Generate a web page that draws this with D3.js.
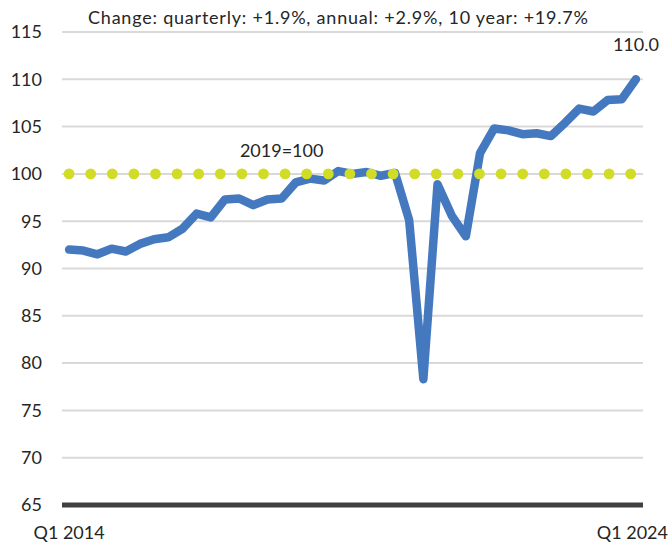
<!DOCTYPE html>
<html>
<head>
<meta charset="utf-8">
<script src="https://cdn.jsdelivr.net/npm/d3@7"></script>
<style>
  html, body { margin: 0; padding: 0; background: #fff; overflow: hidden; }
  text { font-family: Lato, "Noto Sans", sans-serif; fill: #262626; }
</style>
</head>
<body>
<div id="chart"></div>
<script>
// quarters Q1 2014 .. Q1 2024
const quarters = d3.range(2014, 2025).flatMap((y) => [1, 2, 3, 4].map((q) => `Q${q} ${y}`)).slice(0, 41);
const values = [
  92.0, 91.9, 91.5, 92.1, 91.8, 92.6, 93.1, 93.3, 94.2, 95.8,
  95.4, 97.3, 97.4, 96.7, 97.3, 97.4, 99.1, 99.5, 99.3, 100.3,
  100.0, 100.2, 99.8, 100.1, 95.1, 78.3, 98.9, 95.6, 93.4, 102.2,
  104.8, 104.6, 104.2, 104.3, 104.0, 105.4, 106.9, 106.6, 107.8, 107.9,
  110.0
];
const baseline = 100;
const yTicks = [65, 70, 75, 80, 85, 90, 95, 100, 105, 110, 115];
const xTickLabels = ['Q1 2014', 'Q1 2024'];
const title = 'Change: quarterly: +1.9%, annual: +2.9%, 10 year: +19.7%';
const baseLabel = '2019=100';
const baseLabelAt = 'Q4 2017';

const width = 670;
const height = 542;
const margin = { top: 32, right: 27, bottom: 37, left: 62 };

const svg = d3.select('#chart')
  .append('svg')
  .attr('width', width)
  .attr('height', height);

const xScale = d3.scalePoint()
  .domain(quarters)
  .range([margin.left, width - margin.right])
  .padding(0.5);

const yScale = d3.scaleLinear()
  .domain([65, 115])
  .range([height - margin.bottom, margin.top]);

// gridlines
svg.append('g')
  .selectAll('line')
  .data(yTicks.filter((d) => d !== 65))
  .join('line')
  .attr('x1', margin.left)
  .attr('x2', width - margin.right)
  .attr('y1', (d) => yScale(d))
  .attr('y2', (d) => yScale(d))
  .attr('stroke', '#d9d9d9')
  .attr('stroke-width', 2);

// bottom axis line at 65
svg.append('line')
  .attr('x1', margin.left)
  .attr('x2', width - margin.right)
  .attr('y1', yScale(65))
  .attr('y2', yScale(65))
  .attr('stroke', '#404040')
  .attr('stroke-width', 5);

// y tick labels
svg.append('g')
  .selectAll('text')
  .data(yTicks)
  .join('text')
  .attr('x', 42)
  .attr('y', (d) => yScale(d))
  .attr('dy', '0.35em')
  .attr('text-anchor', 'end')
  .style('font-size', '18px')
  .text((d) => d);

// x tick labels (first centred, last kept inside the frame)
svg.append('g')
  .selectAll('text')
  .data(xTickLabels)
  .join('text')
  .attr('x', (d, i) => i === 0 ? xScale(d) : width - 2)
  .attr('y', 533)
  .attr('dy', '0.35em')
  .attr('text-anchor', (d, i) => i === 0 ? 'middle' : 'end')
  .style('font-size', '18px')
  .text((d) => d);

// data line
const line = d3.line()
  .x((d, i) => xScale(quarters[i]))
  .y((d) => yScale(d));

svg.append('path')
  .datum(values)
  .attr('d', line)
  .attr('fill', 'none')
  .attr('stroke', '#4579bf')
  .attr('stroke-width', 8.5)
  .attr('stroke-linejoin', 'round')
  .attr('stroke-linecap', 'round');

// 2019=100 reference line (round dots)
const baseLine = d3.line()
  .x((d, i) => xScale(quarters[i]))
  .y(() => yScale(baseline));

svg.append('path')
  .datum(values)
  .attr('d', baseLine)
  .attr('fill', 'none')
  .attr('stroke', '#d0dc26')
  .attr('stroke-width', 10.8)
  .attr('stroke-linecap', 'round')
  .attr('stroke-dasharray', '0 21.6');

svg.append('text')
  .attr('x', xScale(baseLabelAt))
  .attr('y', yScale(baseline) - 17)
  .attr('text-anchor', 'middle')
  .style('font-size', '18px')
  .text(baseLabel);

// last value label
svg.append('text')
  .attr('x', xScale(quarters[quarters.length - 1]))
  .attr('y', 51)
  .attr('text-anchor', 'middle')
  .style('font-size', '18px')
  .text(values[values.length - 1].toFixed(1));

// title
svg.append('text')
  .attr('x', 338)
  .attr('y', 24)
  .attr('text-anchor', 'middle')
  .attr('textLength', 500)
  .attr('lengthAdjust', 'spacing')
  .style('font-size', '18px')
  .text(title);
</script>
</body>
</html>
